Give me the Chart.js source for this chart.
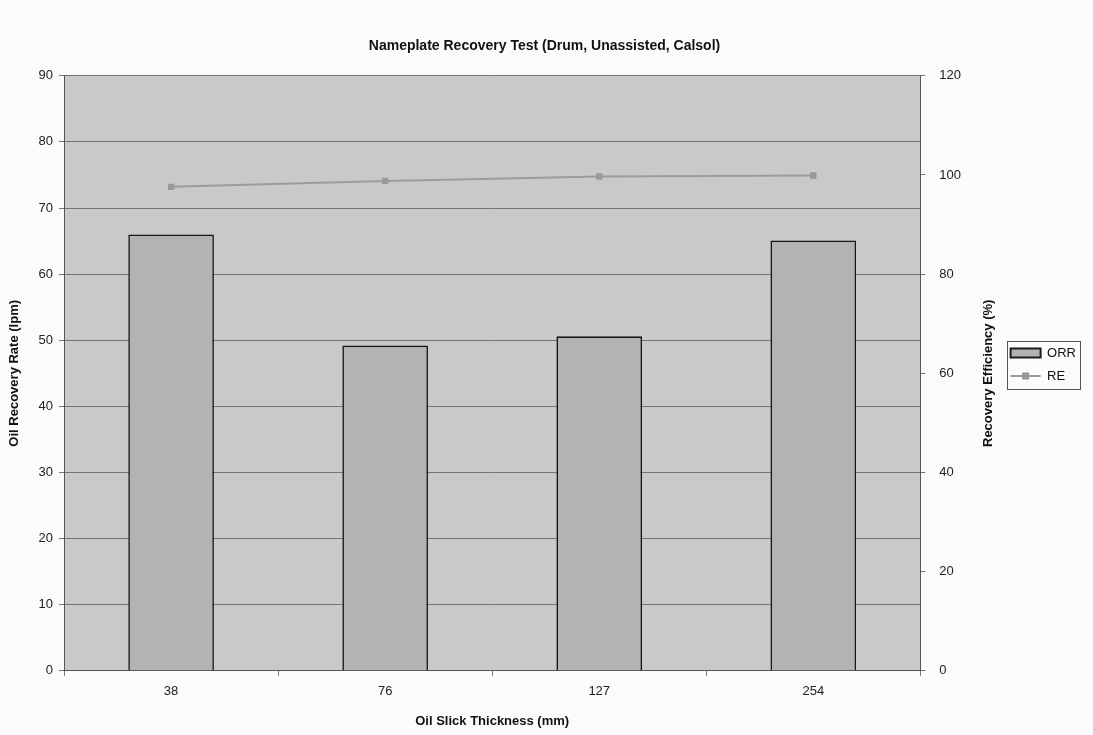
<!DOCTYPE html>
<html>
<head>
<meta charset="utf-8">
<style>
  html, body { margin: 0; padding: 0; background: #fbfbfb; }
  #wrap { width: 1093px; height: 735px; }
</style>
<script src="https://cdn.jsdelivr.net/npm/chart.js@4/dist/chart.umd.min.js"></script>
</head>
<body>
<div id="wrap"><canvas id="c" width="1093" height="735"></canvas></div>
<script>
// Slick thickness categories (mm)
const thickness = ['38', '76', '127', '254'];
// Oil recovery rate (lpm)
const orr = [66.0, 49.2, 50.6, 65.1];
// Recovery efficiency (%)
const re = [97.6, 98.8, 99.7, 99.9];

const FONT = '"Liberation Sans", Arial, sans-serif';
const GRID = '#747474';

// Grey plot-area fill behind the bars
const plotBackground = {
  id: 'plotBackground',
  beforeDraw(chart) {
    const { ctx, chartArea: a } = chart;
    ctx.save();
    ctx.fillStyle = '#c9c9c9';
    ctx.fillRect(a.left, a.top, a.right - a.left, a.bottom - a.top);
    ctx.restore();
  }
};

// Right-axis title reading bottom-to-top, legend frame and the line symbol for RE
const extras = {
  id: 'extras',
  afterDraw(chart) {
    const { ctx } = chart;
    const y1 = chart.scales.y1;
    ctx.save();
    ctx.font = 'bold 13px ' + FONT;
    ctx.fillStyle = '#111';
    ctx.textAlign = 'center';
    ctx.textBaseline = 'middle';
    ctx.translate(y1.right - 4 - 8, (chart.chartArea.top + chart.chartArea.bottom) / 2);
    ctx.rotate(-Math.PI / 2);
    ctx.fillText('Recovery Efficiency (%)', 0, 0);
    ctx.restore();

    const lg = chart.legend;
    if (lg && lg.legendHitBoxes && lg.legendHitBoxes.length) {
      const hb = lg.legendHitBoxes;
      const x0 = hb[0].left - 4;
      const y0 = hb[0].top - 6;
      const x1 = Math.max(...hb.map(h => h.left + h.width)) + 4;
      const yb = hb[hb.length - 1].top + hb[hb.length - 1].height + 6;
      ctx.save();
      ctx.strokeStyle = '#555';
      ctx.lineWidth = 1;
      ctx.strokeRect(Math.round(x0) + 0.5, Math.round(y0) + 0.5, Math.round(x1 - x0), Math.round(yb - y0));
      // line + square marker for RE
      const h = hb[1];
      const cy = h.top + h.height / 2;
      const bw = lg.options.labels.boxWidth;
      ctx.strokeStyle = '#9a9a9a';
      ctx.lineWidth = 2;
      ctx.beginPath();
      ctx.moveTo(h.left, cy);
      ctx.lineTo(h.left + bw, cy);
      ctx.stroke();
      ctx.fillStyle = '#999';
      ctx.fillRect(h.left + bw / 2 - 3.5, cy - 3.5, 7, 7);
      ctx.restore();
    }
  }
};

new Chart(document.getElementById('c'), {
  type: 'bar',
  data: {
    labels: thickness,
    datasets: [
      {
        label: 'ORR',
        data: orr,
        yAxisID: 'y',
        backgroundColor: '#b3b3b3',
        borderColor: '#151515',
        borderWidth: 1.6,
        barPercentage: 0.4,
        categoryPercentage: 1.0,
        order: 2
      },
      {
        type: 'line',
        label: 'RE',
        data: re,
        yAxisID: 'y1',
        borderColor: '#9c9c9c',
        backgroundColor: '#999999',
        borderWidth: 2,
        pointStyle: 'rect',
        pointRadius: 4.5,
        pointBorderWidth: 0,
        pointBackgroundColor: '#999999',
        tension: 0,
        order: 1
      }
    ]
  },
  options: {
    responsive: false,
    animation: false,
    devicePixelRatio: 1,
    layout: { padding: { left: 3, right: 7, top: 0, bottom: 6 } },
    plugins: {
      title: {
        display: true,
        text: 'Nameplate Recovery Test (Drum, Unassisted, Calsol)',
        color: '#111',
        font: { family: FONT, size: 14, weight: 'bold' },
        padding: { top: 38, bottom: 21 }
      },
      legend: {
        display: true,
        position: 'right',
        labels: {
          color: '#111',
          font: { family: FONT, size: 13 },
          boxWidth: 30,
          boxHeight: 9,
          padding: 10,
          generateLabels(chart) {
            return [
              { text: 'ORR', fillStyle: '#b3b3b3', strokeStyle: '#1c1c1c', lineWidth: 2, datasetIndex: 0, fontColor: '#111' },
              { text: 'RE', fillStyle: 'rgba(0,0,0,0)', strokeStyle: 'rgba(0,0,0,0)', lineWidth: 0, datasetIndex: 1, fontColor: '#111' }
            ];
          }
        }
      },
      tooltip: { enabled: false }
    },
    scales: {
      x: {
        grid: { display: true, drawOnChartArea: false, offset: true, tickLength: 5, color: GRID },
        border: { display: true, color: '#555', width: 1 },
        ticks: { color: '#222', font: { family: FONT, size: 13 }, padding: 8 },
        title: {
          display: true,
          text: 'Oil Slick Thickness (mm)',
          color: '#111',
          font: { family: FONT, size: 13, weight: 'bold' },
          padding: { top: 6, bottom: 0 }
        }
      },
      y: {
        position: 'left',
        min: 0,
        max: 90,
        ticks: { stepSize: 10, color: '#222', font: { family: FONT, size: 13 }, padding: 6 },
        grid: { color: GRID, tickLength: 5, lineWidth: 1 },
        border: { display: true, color: '#555', width: 1 },
        title: {
          display: true,
          text: 'Oil Recovery Rate (lpm)',
          color: '#111',
          font: { family: FONT, size: 13, weight: 'bold' },
          padding: { top: 4, bottom: 10 }
        }
      },
      y1: {
        position: 'right',
        min: 0,
        max: 120,
        ticks: { stepSize: 20, color: '#222', font: { family: FONT, size: 13 }, padding: 14 },
        grid: { drawOnChartArea: false, color: GRID, tickLength: 5 },
        border: { display: true, color: '#555', width: 1 },
        title: {
          display: true,
          text: 'Recovery Efficiency (%)',
          color: 'rgba(0,0,0,0)',
          font: { family: FONT, size: 13, weight: 'bold' },
          padding: { top: 4, bottom: 6 }
        }
      }
    }
  },
  plugins: [plotBackground, extras]
});
</script>
</body>
</html>
